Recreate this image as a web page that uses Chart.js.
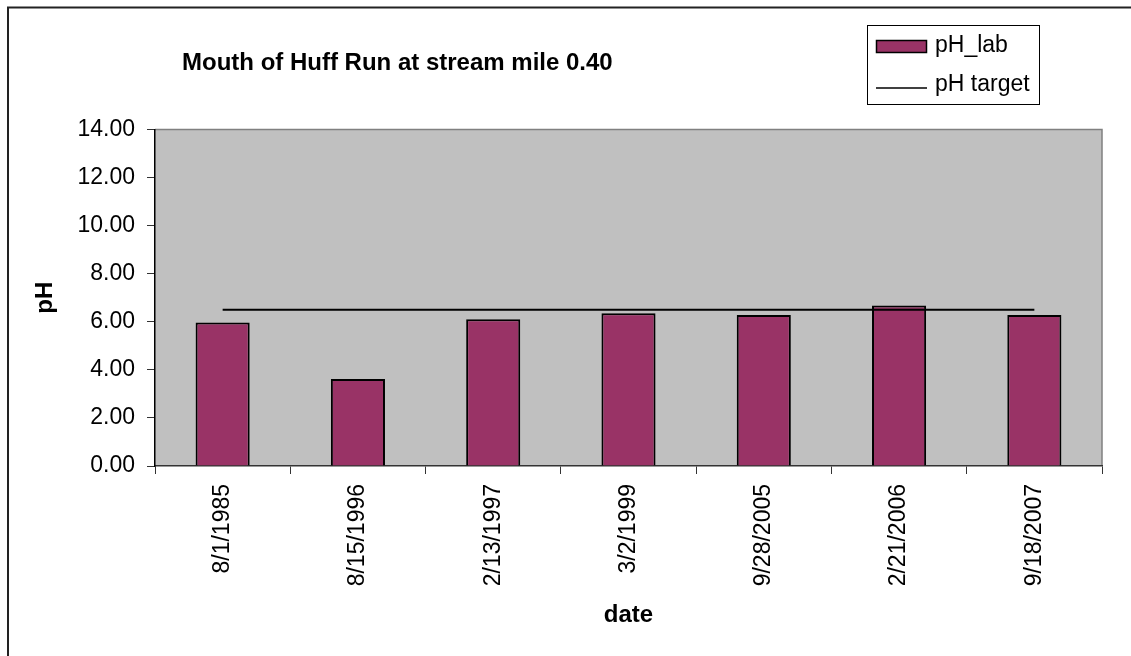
<!DOCTYPE html>
<html>
<head>
<meta charset="utf-8">
<script src="https://cdn.jsdelivr.net/npm/chart.js@4/dist/chart.umd.min.js"></script>
<style>
  html, body { margin: 0; padding: 0; background: #fff; }
  #wrap { width: 1131px; height: 656px; position: relative; }
</style>
</head>
<body>
<div id="wrap"><canvas id="ph"></canvas></div>
<script>
"use strict";
// Huff Run mouth, lab pH per sampling date vs. the pH target
const dates = ["8/1/1985", "8/15/1996", "2/13/1997", "3/2/1999", "9/28/2005", "2/21/2006", "9/18/2007"];
const phLab = [5.97, 3.62, 6.11, 6.35, 6.28, 6.68, 6.28];
const phTarget = [6.5, 6.5, 6.5, 6.5, 6.5, 6.5, 6.5];
const yTicks = [0, 2, 4, 6, 8, 10, 12, 14];

const FONT = "'Liberation Sans', Arial, sans-serif";
const BAR = "#993366";

// grey plot area, outer frame, title and the boxed legend
const decor = {
  id: "decor",
  beforeDraw(chart) {
    const { ctx, chartArea: a } = chart;
    ctx.save();
    ctx.fillStyle = "#c0c0c0";
    ctx.fillRect(a.left, a.top, a.right - a.left, a.bottom - a.top);
    ctx.strokeStyle = "#808080";
    ctx.lineWidth = 1.5;
    ctx.beginPath();
    ctx.moveTo(a.left, a.top); ctx.lineTo(a.right, a.top); ctx.lineTo(a.right, a.bottom);
    ctx.stroke();
    ctx.restore();
  },
  afterDraw(chart) {
    const ctx = chart.ctx;
    const ds = chart.data.datasets;
    ctx.save();
    // frame
    ctx.strokeStyle = "#222";
    ctx.lineWidth = 2;
    ctx.strokeRect(8, 7.5, 3000, 3000);
    // title
    ctx.fillStyle = "#000";
    ctx.font = "bold 24px " + FONT;
    ctx.textAlign = "left";
    ctx.textBaseline = "alphabetic";
    ctx.fillText("Mouth of Huff Run at stream mile 0.40", 182, 70);
    // legend
    ctx.fillStyle = "#fff";
    ctx.fillRect(867, 25, 172, 79);
    ctx.strokeStyle = "#000";
    ctx.lineWidth = 1;
    ctx.strokeRect(867.5, 25.5, 172, 79);
    ctx.fillStyle = ds[0].backgroundColor;
    ctx.fillRect(876, 40, 51, 13);
    ctx.lineWidth = 1.5;
    ctx.strokeRect(876.5, 40.5, 50, 12);
    ctx.beginPath();
    ctx.moveTo(876, 88); ctx.lineTo(927, 88);
    ctx.stroke();
    ctx.fillStyle = "#000";
    ctx.font = "23px " + FONT;
    ctx.textBaseline = "middle";
    ctx.fillText(ds[0].label, 935, 46);
    ctx.fillText(ds[1].label, 935, 85);
    ctx.restore();
  }
};

new Chart(document.getElementById("ph").getContext("2d"), {
  data: {
    labels: dates,
    datasets: [
      { type: "bar", label: "pH_lab", data: phLab, backgroundColor: BAR, borderColor: "#000", borderWidth: 2,
        barPercentage: 0.4, categoryPercentage: 1, order: 2 },
      { type: "line", label: "pH target", data: phTarget, borderColor: "#000", borderWidth: 2,
        pointRadius: 0, fill: false, tension: 0, order: 1 }
    ]
  },
  options: {
    responsive: true, maintainAspectRatio: false, animation: false,
    layout: { padding: { left: 0, right: 29, top: 129.5, bottom: 0 } },
    plugins: { legend: { display: false }, title: { display: false }, tooltip: { enabled: false } },
    scales: {
      x: {
        grid: { offset: true, drawOnChartArea: false, drawTicks: true, tickLength: 8, color: "#333", lineWidth: 1 },
        border: { color: "#333", width: 1.5 },
        ticks: { autoSkip: false, maxRotation: 90, minRotation: 90, padding: 10, color: "#000",
          font: { family: FONT, size: 23 } },
        title: { display: true, text: "date", color: "#000", padding: { top: 0, bottom: 26 },
          font: { family: FONT, size: 24, weight: "bold" } },
        afterFit(s) { s.height = 190; }
      },
      y: {
        min: 0, max: 14,
        afterBuildTicks(s) { s.ticks = yTicks.map(v => ({ value: v })); },
        grid: { drawOnChartArea: false, drawTicks: true, tickLength: 8, color: "#333", lineWidth: 1 },
        border: { color: "#000", width: 1.5 },
        ticks: { padding: 12, color: "#000", font: { family: FONT, size: 23 }, callback: v => Number(v).toFixed(2) },
        title: { display: true, text: "pH", color: "#000", padding: { top: 31, bottom: 0 },
          font: { family: FONT, size: 24, weight: "bold" } },
        afterFit(s) { s.width = 155; }
      }
    }
  },
  plugins: [decor]
});
</script>
</body>
</html>
